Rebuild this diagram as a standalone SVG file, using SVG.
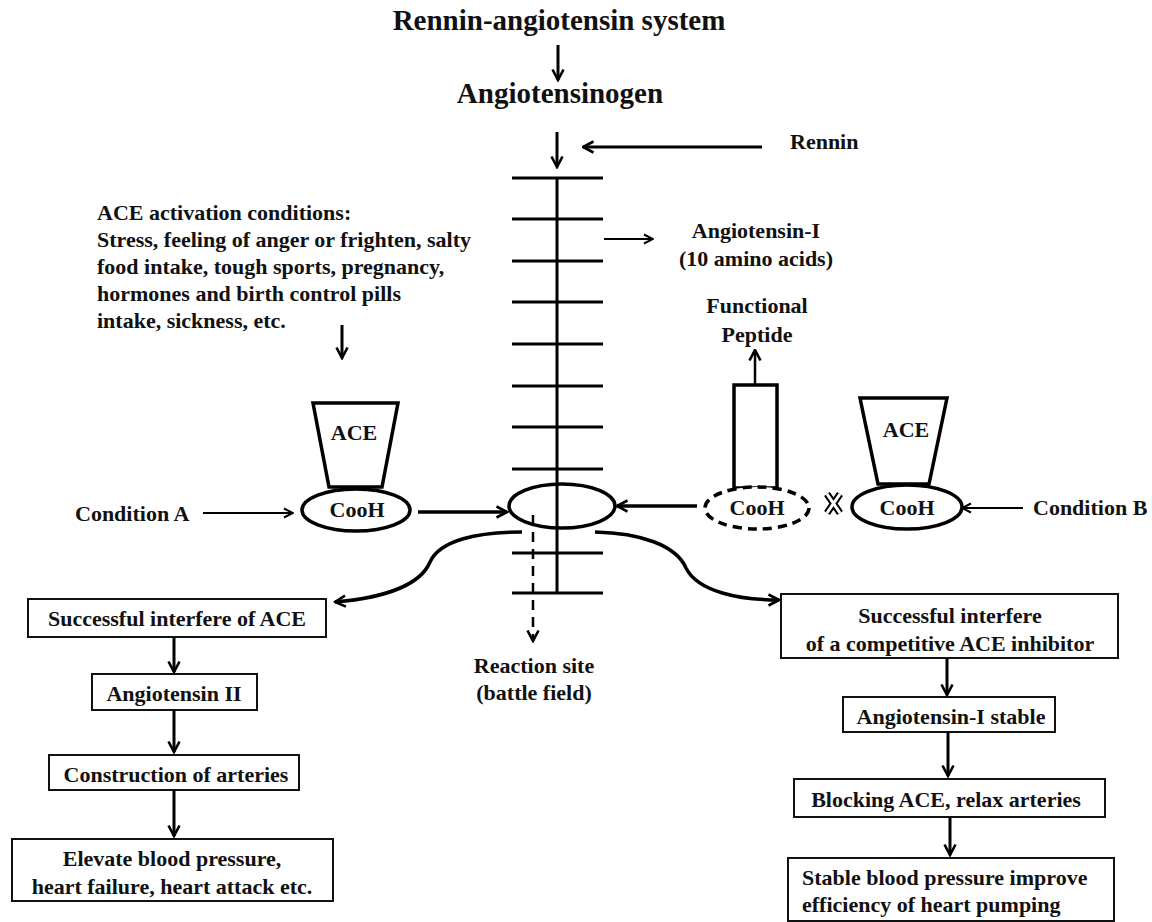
<svg xmlns="http://www.w3.org/2000/svg" width="1152" height="922" viewBox="0 0 1152 922">
<defs>
<style>
text{font-family:"Liberation Serif","Times New Roman",serif;font-weight:bold;fill:#111;font-size:22px}
.t{font-size:29px}
.c{text-anchor:middle}
.ln{stroke:#000;fill:none}
.box{fill:#fff;stroke:#111;stroke-width:2}
.sh{fill:#fff;stroke:#000;stroke-width:3.5}
</style>
<marker id="ah" viewBox="0 0 14 14" refX="12.5" refY="7" markerWidth="14" markerHeight="14" markerUnits="userSpaceOnUse" orient="auto">
<path d="M2,1.5 L12.5,7 L2,12.5" fill="none" stroke="#000" stroke-width="2.6" stroke-linejoin="miter"/>
</marker>
<marker id="ahs" viewBox="0 0 12 12" refX="11" refY="6" markerWidth="12" markerHeight="12" markerUnits="userSpaceOnUse" orient="auto">
<path d="M2,1.5 L11,6 L2,10.5" fill="none" stroke="#000" stroke-width="2"/>
</marker>
</defs>
<rect width="1152" height="922" fill="#fff"/>

<g id="title"><text class="t c" x="559" y="30">Rennin-angiotensin system</text></g>
<g id="angiotensinogen"><text class="t c" x="560" y="103">Angiotensinogen</text></g>
<g id="rennin"><text x="790" y="149">Rennin</text></g>

<g id="ladder" class="ln" stroke-width="3">
<line x1="557" y1="178" x2="557" y2="593"/>
<line x1="512" y1="178" x2="603" y2="178"/>
<line x1="512" y1="219" x2="603" y2="219"/>
<line x1="512" y1="261" x2="603" y2="261"/>
<line x1="512" y1="302" x2="603" y2="302"/>
<line x1="512" y1="344" x2="603" y2="344"/>
<line x1="512" y1="386" x2="603" y2="386"/>
<line x1="512" y1="427" x2="603" y2="427"/>
<line x1="512" y1="469" x2="603" y2="469"/>
<line x1="512" y1="553" x2="603" y2="553"/>
<line x1="512" y1="593" x2="603" y2="593"/>
</g>
<g id="reaction-site">
<ellipse cx="562" cy="506" rx="53" ry="22" fill="none" stroke="#000" stroke-width="3.5"/>
<text class="c" x="534" y="673">Reaction site</text>
<text class="c" x="534" y="700">(battle field)</text>
</g>

<g id="angiotensin-1"><text class="c" x="756" y="238">Angiotensin-I</text><text class="c" x="756" y="266">(10 amino acids)</text></g>

<g id="ace-conditions">
<text x="97" y="220">ACE activation conditions:</text>
<text x="97" y="247">Stress, feeling of anger or frighten, salty</text>
<text x="97" y="274">food intake, tough sports, pregnancy,</text>
<text x="97" y="301">hormones and birth control pills</text>
<text x="97" y="328">intake, sickness, etc.</text>
</g>

<g id="ace-left">
<polygon class="sh" points="313,403 398,403 382,487 329,487"/>
<text class="c" x="354" y="440">ACE</text>
<ellipse class="sh" cx="356" cy="510" rx="54" ry="21"/>
<text class="c" x="357" y="517">CooH</text>
</g>
<g id="condition-a"><text x="75" y="521">Condition A</text></g>

<g id="functional-peptide">
<text class="c" x="757" y="313">Functional</text>
<text class="c" x="757" y="342">Peptide</text>
<rect x="734" y="385" width="43" height="103" fill="#fff" stroke="#000" stroke-width="3.5"/>
<ellipse cx="757" cy="508" rx="52" ry="21" fill="#fff" stroke="#000" stroke-width="3.5" stroke-dasharray="9,6"/>
<text class="c" x="757" y="515">CooH</text>
</g>

<g id="x-mark">
<path d="M827,494 L840,513 M840,494 L827,513" stroke="#000" stroke-width="7" fill="none"/>
<path d="M827,494 L840,513 M840,494 L827,513" stroke="#fff" stroke-width="3" fill="none"/>
</g>

<g id="ace-right">
<polygon class="sh" points="860,398 947,398 929,484 878,484"/>
<text class="c" x="906" y="437">ACE</text>
<ellipse class="sh" cx="907" cy="507" rx="55" ry="22"/>
<text class="c" x="907" y="515">CooH</text>
</g>
<g id="condition-b"><text x="1033" y="515">Condition B</text></g>

<g id="left-flow">
<rect class="box" x="28" y="599" width="298" height="38"/>
<text class="c" x="177" y="626">Successful interfere of ACE</text>
<rect class="box" x="92" y="674" width="165" height="36"/>
<text class="c" x="174" y="701">Angiotensin II</text>
<rect class="box" x="49" y="755" width="250" height="35"/>
<text class="c" x="176" y="782">Construction of arteries</text>
<rect class="box" x="12" y="839" width="321" height="62"/>
<text class="c" x="172" y="866">Elevate blood pressure,</text>
<text class="c" x="172" y="894">heart failure, heart attack etc.</text>
</g>

<g id="right-flow">
<rect class="box" x="781" y="594" width="337" height="64"/>
<text class="c" x="950" y="623">Successful interfere</text>
<text class="c" x="950" y="651">of a competitive  ACE inhibitor</text>
<rect class="box" x="843" y="697" width="212" height="35"/>
<text class="c" x="951" y="724">Angiotensin-I stable</text>
<rect class="box" x="794" y="779" width="311" height="38"/>
<text class="c" x="946" y="807">Blocking ACE, relax arteries</text>
<rect class="box" x="788" y="858" width="326" height="63"/>
<text x="802" y="885">Stable blood pressure improve</text>
<text x="802" y="912">efficiency of heart pumping</text>
</g>

<g id="connectors" class="ln">
<line x1="558" y1="45" x2="558" y2="80" stroke-width="3" marker-end="url(#ah)"/>
<line x1="557" y1="132" x2="557" y2="167" stroke-width="3" marker-end="url(#ah)"/>
<line x1="762" y1="147" x2="583" y2="147" stroke-width="3" marker-end="url(#ah)"/>
<line x1="604" y1="239" x2="653" y2="239" stroke-width="2" marker-end="url(#ahs)"/>
<line x1="342" y1="325" x2="342" y2="358" stroke-width="3" marker-end="url(#ah)"/>
<line x1="203" y1="513" x2="293" y2="513" stroke-width="2" marker-end="url(#ahs)"/>
<line x1="418" y1="512" x2="507" y2="512" stroke-width="3.5" marker-end="url(#ah)"/>
<line x1="697" y1="506" x2="617" y2="506" stroke-width="3.5" marker-end="url(#ah)"/>
<line x1="1023" y1="508" x2="962" y2="508" stroke-width="2" marker-end="url(#ahs)"/>
<line x1="755" y1="385" x2="755" y2="350" stroke-width="2.5" marker-end="url(#ah)"/>
<line x1="533" y1="515" x2="533" y2="641" stroke-width="2.5" stroke-dasharray="10,7" marker-end="url(#ah)"/>
<path d="M522,532 C478,532 440,540 430,562 C420,586 382,598 335,602" stroke-width="3.5" marker-end="url(#ah)"/>
<path d="M595,532 C640,533 676,545 686,568 C698,592 740,600 779,600" stroke-width="3.5" marker-end="url(#ah)"/>
<line x1="174" y1="637" x2="174" y2="672" stroke-width="3" marker-end="url(#ah)"/>
<line x1="174" y1="710" x2="174" y2="752" stroke-width="3" marker-end="url(#ah)"/>
<line x1="174" y1="790" x2="174" y2="836" stroke-width="3" marker-end="url(#ah)"/>
<line x1="947" y1="658" x2="947" y2="695" stroke-width="3" marker-end="url(#ah)"/>
<line x1="948" y1="732" x2="948" y2="776" stroke-width="3" marker-end="url(#ah)"/>
<line x1="950" y1="817" x2="950" y2="855" stroke-width="3" marker-end="url(#ah)"/>
</g>
</svg>
